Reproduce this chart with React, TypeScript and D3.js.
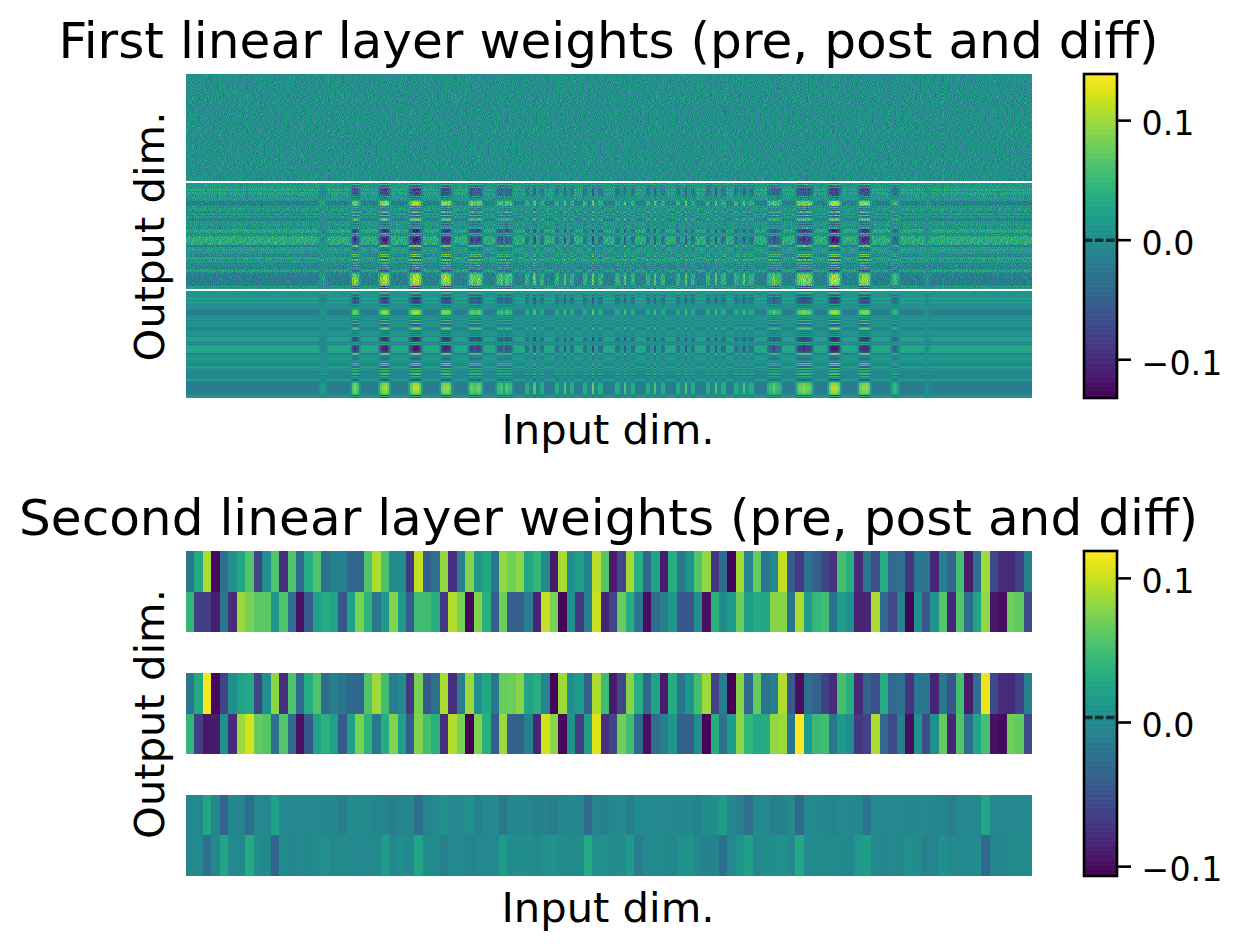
import React, { useMemo } from "react";
import * as d3 from "d3";

const firstTitle = "First linear layer weights (pre, post and diff)";
const secondTitle = "Second linear layer weights (pre, post and diff)";
const xLabel = "Input dim.";
const yLabel = "Output dim.";
const firstDomain = [-0.132, 0.139];
const secondDomain = [-0.1065, 0.119];
const colorbarTicks = [-0.1, 0, 0.1];
const firstMarker = 0;
const secondMarker = 0.0035;

// Second layer, read cell by cell (2 outputs x 100 inputs)
const secondPreA = [-.016,.03,.09,-.1,-.025,.006,.028,.058,-.06,.005,.057,-.077,.056,-.03,.032,.056,-.025,-.008,-.008,-.033,-.033,.057,.09,.055,0,.004,-.07,.098,-.038,-.024,.083,-.078,-.012,.077,.013,.028,-.016,.082,.07,.08,.027,.042,.002,-.09,.09,.005,.02,-.008,.095,.058,
-.09,-.06,.088,.033,-.03,.025,-.09,.033,-.016,.012,.058,.082,-.07,-.028,-.103,.088,-.004,.066,-.02,0,.098,-.044,-.068,-.024,-.036,-.06,-.074,.052,.036,-.078,-.016,-.052,.033,-.03,-.026,-.07,-.018,-.018,-.082,-.012,-.034,.052,-.09,-.026,.086,-.058,-.08,-.08,-.062,-.008];
const secondPreB = [.043,-.066,-.066,-.088,-.018,-.078,.085,.073,.063,.06,.01,.057,-.026,-.097,-.044,.022,.032,.024,-.046,.022,.073,.04,-.016,.014,.076,.015,-.042,.05,.05,.035,-.068,.093,.073,-.1,.076,.035,-.04,.068,-.04,-.04,-.01,-.082,.098,.073,-.104,.007,-.068,-.01,.1,-.082,
-.062,.066,.034,-.018,-.098,-.028,-.012,.014,-.046,-.045,.004,-.097,.038,.002,.016,.068,.02,.032,.028,.078,.078,-.018,.09,.016,.044,.05,-.02,.016,.006,-.084,-.084,.09,-.028,-.058,-.008,-.104,.008,-.046,.01,.058,-.082,.058,-.028,.024,.082,-.092,-.098,.068,.064,-.058];
const secondPostA = [-.016,.03,.116,-.102,-.06,.006,.024,.03,-.06,.005,.08,-.077,.056,-.03,.032,.056,-.028,-.01,-.018,-.03,-.033,.057,.086,.05,-.012,0,-.07,.073,-.044,-.024,.09,-.078,-.012,.085,.005,.028,-.016,.066,.068,.078,.024,.034,-.004,-.104,.086,.004,.016,-.038,.09,.05,
-.09,-.06,.078,.034,-.03,.025,-.09,.033,-.018,.012,.052,.086,-.062,-.01,-.106,.078,-.03,.066,-.02,-.012,.092,-.044,-.098,-.024,-.036,-.062,-.08,.052,.036,-.08,-.036,-.052,.033,-.03,-.026,-.072,-.018,-.018,-.084,-.016,-.046,.052,-.09,-.026,.112,-.058,-.08,-.08,-.062,-.008];
const secondPostB = [.043,-.066,-.092,-.09,.008,-.078,.085,.104,.066,.058,-.024,.058,-.028,-.097,-.045,.024,.038,.022,-.044,.022,.073,.04,-.016,.032,.076,.02,-.042,.076,.052,.037,-.078,.093,.073,-.106,.076,.035,-.04,.085,-.036,-.036,-.006,-.082,.104,.08,-.102,.007,-.066,.02,.107,-.076,
-.06,.07,.05,-.03,-.098,-.026,-.012,.012,-.038,-.038,.004,-.104,.034,-.022,.016,.08,.042,.03,.032,.082,.086,-.018,.119,.016,.046,.05,-.018,.016,.004,-.07,-.064,.09,-.03,-.058,-.01,-.098,.01,-.054,.006,.066,-.082,.058,-.028,.026,.052,-.096,-.1,.07,.064,-.056];

// First layer, output rows of the bottom block: value away from the stripes and at the strongest stripe
const firstRowBase = [.01,.012,0,.015,.005,.015,.025,.025,0,.02,.02,.015,-.005,.02,.005,.01,0,-.018,-.018,-.02,-.018,-.016,.015,-.005,.015,0,.02,-.01,.01,.015,-.012,.012,.005,-.01,-.02,-.015,0,.015,.005,.015,0,.01,-.005,.022,.024,.024,.02,-.015,.01,-.012,.028,.03,.03,.031,.03,.03,.03,.025,-.02,-.018,.015,.01,.02,.015,.01,.005,.015,-.015,0,-.012,.02,.025,.005,.015,0,-.012,-.005,-.005,-.012,-.012,-.01,0,.025,.015,-.005,-.018,-.018,-.018,-.02,-.02,-.02,-.02,-.02,-.02,-.018,-.018,-.016,.02,0,.018];
const firstRowPeak = [-.04,.05,-.03,-.07,.02,-.085,-.09,-.095,-.06,-.09,-.08,-.07,.03,-.06,.01,-.02,.03,.09,.1,.105,.1,.085,-.04,.04,-.03,.02,-.06,.06,-.02,-.05,.08,-.06,0,.05,.09,.06,-.01,-.05,.02,-.06,.02,-.03,.03,-.1,-.11,-.105,-.09,.055,-.03,.04,-.09,-.105,-.115,-.12,-.115,-.105,-.1,-.08,.09,.08,-.03,-.02,-.06,-.04,0,.02,-.04,.09,0,.08,-.07,-.06,.07,-.07,.05,.03,-.04,.06,-.06,.05,-.02,.02,-.09,-.05,.02,.06,.09,.095,.1,.105,.11,.11,.105,.1,.095,.085,.07,-.1,.05,-.09];

// First layer, stripe strength along the inputs (one digit for every 2 inputs, 0 = none, 9 = full)
const firstColumnWeights = [
  "000000000000000000000000000000000000000000000000000000000",
  "00001232100000","00000268620000","00003789730000","00003799973000",
  "00002788872000","00026766762000","00255636552000","00441161144000",
  "00441161144000","04411711440000","00441161144000","00441161144000",
  "00441161144000","00441161144000","04422622440000","00455755400000",
  "03677877630000","00379997300000","00278887200000","00024542000000",
  "00000121000000",
  "00000000000000000000000000000000000000000",
];

// First layer, an estimated sample of the fine noise in the top block (digit 0-9 around the middle of the range)
const firstNoiseSample = [
  "46352748153627459361527483615274936158247351694275",
  "73518264937152846395174283659147382651947362815493",
  "25847361925748136495827361495728361947258136479253",
  "61493728514673829156473285916473825196347281563947",
  "38276159483725614938257146392857146382951473628514",
  "54917362847159362847516392748156293748516294738265",
  "29638471526394815726394185726349185273649518273645",
  "47152836495718264935871462938517264839517264385192",
  "83624957136285497316258493716284539172648351927436",
  "16495283746192538476195283746159283746519283647152",
  "52738164925837164952738461925374816295374681527349",
  "39481726354918273645192837465128374961528473691528",
  "64275938146728539164725839164275839461752836491725",
  "27516394825761938452761394825176394528176395284716",
  "85349162738549162783594162738459162738549261738495",
  "41862753946182753964182573946128573496182753946281",
  "36297481563729481653927486153927481569327418563927",
  "72854136927854136297851364928751364928571346928715",
  "59163842756193842765913842675193482675913842765193",
  "14728695341728695134276951342876951342786951347286",
  "68345917264835917246835192746835912746389512746835",
  "35971264853971264385972164853792164853972614853927",
  "42816593748216593472816953472861953472816935472816",
  "97253481692753418692574381692753481962753481692574",
  "51638274951638247951632874951638274915638274951368",
  "26485917362485193762485917362845917362485917326485",
  "73149625873149268573419625873149625837149625873194",
  "48592736148592763148529736148597236148592736418592",
  "15367482915367428915364782915367482195367482915637",
  "62814359762814395762841359762814359276814359762184",
];
const noiseStep = 0.0078;
const noiseLevel = 4.5;
const gapRows = 2;

function buildFirstImage(color: d3.ScaleSequential<string>) {
  const weights = firstColumnWeights.join("");
  const cols = 784;
  const block = firstRowBase.length;
  const rows = block * 3 + gapRows * 2;
  const canvas = document.createElement("canvas");
  canvas.width = cols;
  canvas.height = rows;
  const ctx = canvas.getContext("2d")!;
  const img = ctx.createImageData(cols, rows);
  const sampleRows = firstNoiseSample.length;
  const sampleCols = firstNoiseSample[0].length;
  const put = (r: number, c: number, v: number) => {
    const rgb = d3.rgb(color(v));
    const i = (r * cols + c) * 4;
    img.data[i] = rgb.r;
    img.data[i + 1] = rgb.g;
    img.data[i + 2] = rgb.b;
    img.data[i + 3] = 255;
  };
  for (let r = 0; r < block; r++) {
    for (let c = 0; c < cols; c++) {
      const w = +weights[c >> 1] / 9;
      const diff = firstRowBase[r] * (1 - w) + firstRowPeak[r] * w;
      const sr = r % sampleRows;
      const sc = (c + 17 * Math.floor(r / sampleRows) + 23 * Math.floor(c / sampleCols)) % sampleCols;
      const pre = (+firstNoiseSample[sr][sc] - noiseLevel) * noiseStep;
      put(r, c, pre);
      put(r + block + gapRows, c, pre + diff);
      put(r + 2 * (block + gapRows), c, diff);
    }
  }
  ctx.putImageData(img, 0, 0);
  return { href: canvas.toDataURL("image/png"), rows, cols };
}

const FONT = "'DejaVu Sans'";
const INK = "#000";

function Colorbar({ domain, marker, top, bottom }: { domain: number[]; marker: number; top: number; bottom: number }) {
  const y = d3.scaleLinear().domain(domain).range([bottom, top]);
  const color = d3.scaleSequential(d3.interpolateViridis).domain(domain as [number, number]);
  const levels = d3.range(256).map((i) => domain[0] + ((domain[1] - domain[0]) * i) / 255);
  const left = 1084;
  const right = 1117;
  const step = (bottom - top) / 256;
  return (
    <g>
      {levels.map((v, i) => (
        <rect key={i} x={left} width={right - left} y={bottom - (i + 1) * step - 0.3} height={step + 0.6} fill={color(v)} />
      ))}
      <line x1={left} x2={right} y1={y(marker)} y2={y(marker)} stroke="#000" strokeOpacity={0.65} strokeWidth={3.4} strokeDasharray="8.5 2.5" />
      <rect x={left} y={top} width={right - left} height={bottom - top} fill="none" stroke={INK} strokeWidth={2.6} />
      {colorbarTicks.map((t) => (
        <g key={t}>
          <line x1={right} x2={right + 14} y1={y(t)} y2={y(t)} stroke={INK} strokeWidth={2.6} />
          <text x={1141.5} y={y(t) + 2.5} dy="0.37em" fontFamily={FONT} fontSize={33.3} fill={INK}>
            {t < 0 ? "\u2212" + Math.abs(t).toFixed(1) : t.toFixed(1)}
          </text>
        </g>
      ))}
    </g>
  );
}

function Labels({ title, titleY, labelY, centerY }: { title: string; titleY: number; labelY: number; centerY: number }) {
  return (
    <g fontFamily={FONT} fill={INK}>
      <text x={608.5} y={titleY} textAnchor="middle" fontSize={50.15}>{title}</text>
      <text x={608} y={labelY} textAnchor="middle" fontSize={41.67}>{xLabel}</text>
      <text transform={`translate(164,${centerY}) rotate(-90)`} textAnchor="middle" fontSize={41.67}>{yLabel}</text>
    </g>
  );
}

export default function App() {
  const firstColor = useMemo(() => d3.scaleSequential(d3.interpolateViridis).domain(firstDomain as [number, number]).clamp(true), []);
  const secondColor = useMemo(() => d3.scaleSequential(d3.interpolateViridis).domain(secondDomain as [number, number]).clamp(true), []);
  const first = useMemo(() => buildFirstImage(firstColor), [firstColor]);

  const x1 = d3.scaleLinear().domain([0, first.cols]).range([186, 1032]);
  const y1 = d3.scaleLinear().domain([0, first.rows]).range([74, 398]);

  const secondDiffA = secondPostA.map((v, i) => v - secondPreA[i]);
  const secondDiffB = secondPostB.map((v, i) => v - secondPreB[i]);
  const secondRows: (number[] | null)[] = [secondPreA, secondPreB, null, secondPostA, secondPostB, null, secondDiffA, secondDiffB];
  const x2 = d3.scaleLinear().domain([0, 100]).range([186, 1032]);
  const y2 = d3.scaleLinear().domain([0, secondRows.length]).range([551, 876]);

  return (
    <svg width={1244} height={949} style={{ position: "absolute", left: 0, top: 0, background: "#fff" }}>
      <Labels title={firstTitle} titleY={58} labelY={444} centerY={236.5} />
      <image
        href={first.href}
        x={x1(0)}
        y={y1(0)}
        width={x1(first.cols) - x1(0)}
        height={y1(first.rows) - y1(0)}
        preserveAspectRatio="none"
        style={{ imageRendering: "pixelated" }}
      />
      <Colorbar domain={firstDomain} marker={firstMarker} top={74} bottom={398} />

      <Labels title={secondTitle} titleY={535} labelY={922} centerY={714} />
      <g shapeRendering="crispEdges">
        {secondRows.map((row, r) =>
          row
            ? row.map((v, c) => (
                <rect key={`${r}-${c}`} x={x2(c)} y={y2(r)} width={x2(c + 1) - x2(c)} height={y2(r + 1) - y2(r)} fill={secondColor(v)} />
              ))
            : null
        )}
      </g>
      <Colorbar domain={secondDomain} marker={secondMarker} top={551} bottom={876} />
    </svg>
  );
}
